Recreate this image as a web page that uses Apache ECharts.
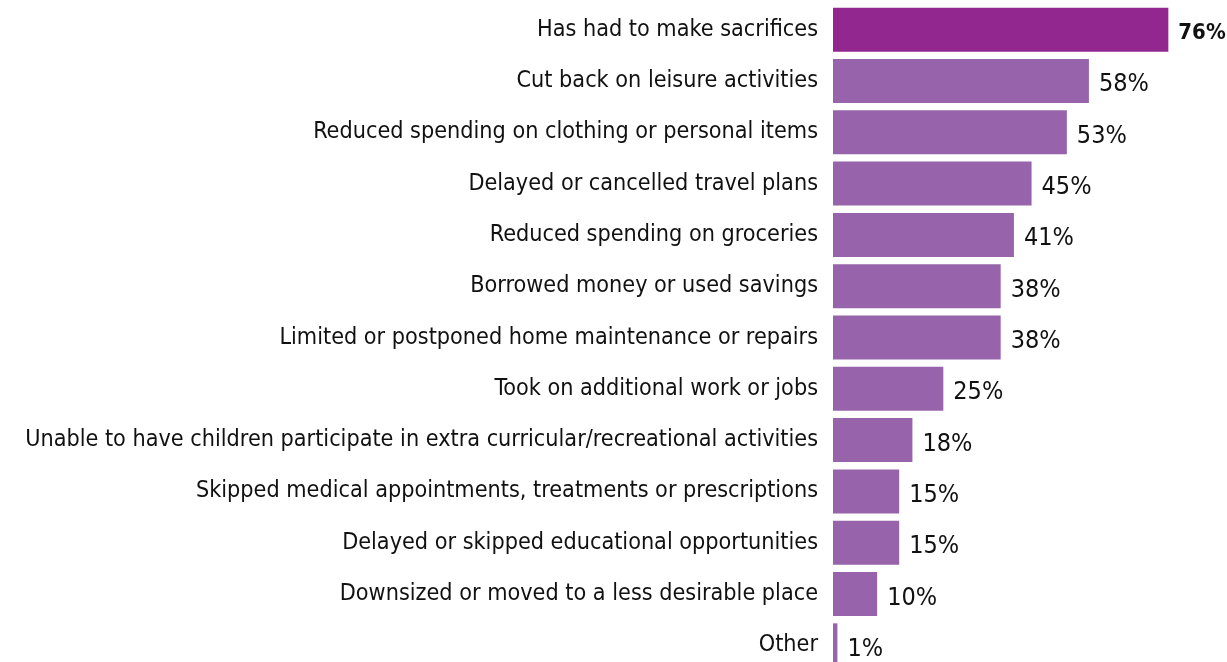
<!DOCTYPE html>
<html>
<head>
<meta charset="utf-8">
<script src="https://cdn.jsdelivr.net/npm/echarts@6/dist/echarts.min.js"></script>
<style>
  html, body { margin: 0; padding: 0; background: #fff; }
  #chart { width: 1227px; height: 662px; }
</style>
</head>
<body>
<div id="chart"></div>
<script>
const categories = [
  "Has had to make sacrifices",
  "Cut back on leisure activities",
  "Reduced spending on clothing or personal items",
  "Delayed or cancelled travel plans",
  "Reduced spending on groceries",
  "Borrowed money or used savings",
  "Limited or postponed home maintenance or repairs",
  "Took on additional work or jobs",
  "Unable to have children participate in extra curricular/recreational activities",
  "Skipped medical appointments, treatments or prescriptions",
  "Delayed or skipped educational opportunities",
  "Downsized or moved to a less desirable place",
  "Other"
];
const values = [76, 58, 53, 45, 41, 38, 38, 25, 18, 15, 15, 10, 1];

const fontFamily = '"Liberation Sans Narrow", "DejaVu Sans Condensed", sans-serif';

const chart = echarts.init(document.getElementById("chart"));

chart.setOption({
  animation: false,
  grid: {
    left: 833,
    top: 4,
    width: 353,
    height: 667,
    containLabel: false,
    outerBoundsMode: "none"
  },
  xAxis: {
    type: "value",
    min: 0,
    max: 80,
    show: false
  },
  yAxis: {
    type: "category",
    inverse: true,
    data: categories,
    axisLine: { show: false },
    axisTick: { show: false },
    axisLabel: {
      margin: 15,
      color: "#111",
      fontSize: 23.2,
      fontFamily: fontFamily
    }
  },
  series: [
    {
      type: "bar",
      barWidth: 44,
      data: values.map((v, i) => ({
        value: v,
        itemStyle: { color: i === 0 ? "#92278F" : "#9763AB" },
        // headline value is bold, a touch smaller so it fits the edge
        label: i === 0 ? { fontWeight: "bold", fontSize: 22 } : {}
      })),
      label: {
        show: true,
        position: "right",
        distance: 10,
        formatter: "{c}%",
        color: "#111",
        fontSize: 25,
        fontFamily: fontFamily,
        offset: [0, 4]
      }
    }
  ]
});
</script>
</body>
</html>
